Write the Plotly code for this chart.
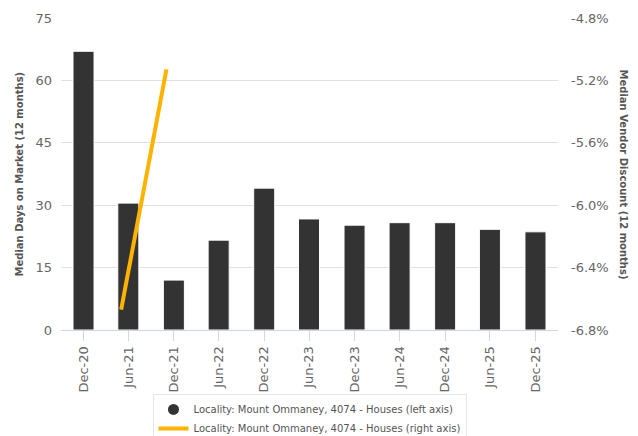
import plotly.graph_objects as go

categories = ["Dec-20", "Jun-21", "Dec-21", "Jun-22", "Dec-22", "Jun-23",
              "Dec-23", "Jun-24", "Dec-24", "Jun-25", "Dec-25"]
bar_dates = ["2020-12-31", "2021-06-30", "2021-12-31", "2022-06-30", "2022-12-31",
             "2023-06-30", "2023-12-31", "2024-06-30", "2024-12-31", "2025-06-30",
             "2025-12-31"]
days_on_market = [67, 30.5, 12, 21.6, 34.1, 26.7, 25.2, 25.8, 25.8, 24.2, 23.6]
line_dates = ["2021-06-01", "2021-12-01"]
vendor_discount = [-6.67, -5.13]
left_ticks = [0, 15, 30, 45, 60, 75]
right_ticks = [-6.8, -6.4, -6.0, -5.6, -5.2, -4.8]
right_tick_labels = ["-6.8%", "-6.4%", "-6.0%", "-5.6%", "-5.2%", "-4.8%"]
series_left = "Locality: Mount Ommaney, 4074 - Houses (left axis)"
series_right = "Locality: Mount Ommaney, 4074 - Houses (right axis)"

FONT = "DejaVu Sans"
BAR_COLOR = "#333333"
LINE_COLOR = "#FFB300"
DAY_MS = 86400000

fig = go.Figure()
fig.add_trace(go.Bar(
    x=bar_dates, y=days_on_market, name=series_left, showlegend=False,
    width=[85 * DAY_MS] * len(bar_dates),
    marker=dict(color=BAR_COLOR, line=dict(color="#ffffff", width=1)),
    yaxis="y",
))
fig.add_trace(go.Scatter(
    x=line_dates, y=vendor_discount, name=series_right, mode="lines",
    line=dict(color=LINE_COLOR, width=4), showlegend=False, yaxis="y2",
))
# legend entries
fig.add_trace(go.Scatter(
    x=[None], y=[None], mode="markers", name=series_left,
    marker=dict(color=BAR_COLOR, size=11, symbol="circle"),
))
fig.add_trace(go.Scatter(
    x=[None], y=[None], mode="lines", name=series_right,
    line=dict(color=LINE_COLOR, width=4),
))

fig.update_layout(
    width=638, height=436,
    margin=dict(l=61, r=80, t=18, b=106, autoexpand=False),
    paper_bgcolor="white", plot_bgcolor="white",
    font=dict(family=FONT, color="#666666", size=13),
    xaxis=dict(
        type="date", tickangle=-90, showgrid=False, automargin=False,
        tickvals=bar_dates, ticktext=categories,
        showline=True, linecolor="#ccd6eb", linewidth=1,
        ticks="outside", ticklen=10, tickcolor="#ccd6eb",
        tickfont=dict(size=13, color="#666666"),
        range=["2020-10-01", "2026-04-01"],
    ),
    yaxis=dict(
        range=[0, 75], tickvals=left_ticks, showgrid=True, automargin=False,
        gridcolor="#e0e0e0", gridwidth=1, zeroline=False,
        tickfont=dict(size=13, color="#666666"), ticks="",
        ticklabelstandoff=8,
    ),
    yaxis2=dict(
        range=[-6.8, -4.8], tickvals=right_ticks, ticktext=right_tick_labels,
        overlaying="y", side="right", automargin=False,
        showgrid=False, zeroline=False,
        tickfont=dict(size=13, color="#666666"), ticks="",
        ticklabelstandoff=12,
    ),
    legend=dict(
        orientation="v", x=0.5, xanchor="center", y=-0.205, yanchor="top",
        bordercolor="#e6e6e6", borderwidth=1, bgcolor="white",
        font=dict(size=10, color="#555555", family=FONT),
        itemwidth=30, tracegroupgap=0,
    ),
    annotations=[
        dict(text="<b>Median Days on Market (12 months)</b>", xref="paper", yref="paper",
             x=0.0, xshift=-50, y=0.5, textangle=-90, showarrow=False,
             font=dict(size=10, color="#555555", family=FONT)),
        dict(text="<b>Median Vendor Discount (12 months)</b>", xref="paper", yref="paper",
             x=1.0, xshift=73, y=0.5, textangle=90, showarrow=False,
             font=dict(size=10, color="#555555", family=FONT)),
    ],
)

fig.write_html("out.html", config={"displayModeBar": False},
               post_script="document.body.style.margin='0';")
